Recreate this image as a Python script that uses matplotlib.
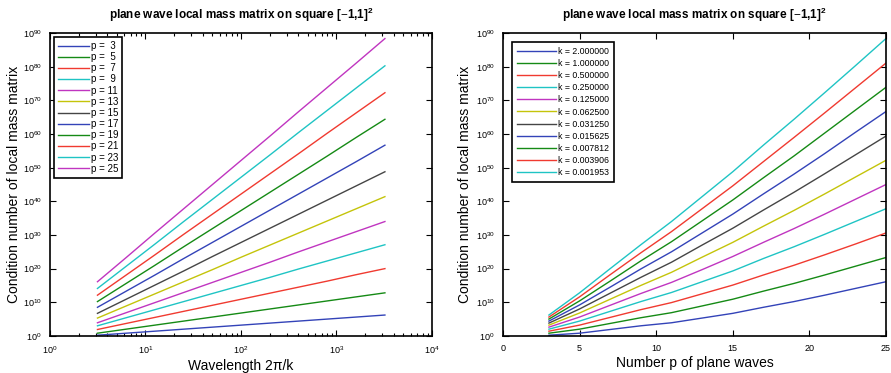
import numpy as np
import matplotlib
matplotlib.use("Agg")
from matplotlib import pyplot as plt

plt.rcParams["font.family"] = ["Liberation Sans", "DejaVu Sans"]
plt.rcParams["mathtext.fontset"] = "custom"
plt.rcParams["mathtext.rm"] = "Liberation Sans"
plt.rcParams["mathtext.bf"] = "Liberation Sans:bold"

# wave numbers and number of plane waves
k_vals = [2.0, 1.0, 0.5, 0.25, 0.125, 0.0625, 0.03125, 0.015625,
          0.0078125, 0.00390625, 0.001953125]
p_vals = [3, 5, 7, 9, 11, 13, 15, 17, 19, 21, 23, 25]

# log10 of condition number, one row per p, one column per k
log_cond = [
    [0.2, 0.8, 1.4, 2.0, 2.6, 3.2, 3.8, 4.4, 5.0, 5.6, 6.2],
    [0.8, 2.0, 3.2, 4.4, 5.6, 6.8, 8.0, 9.2, 10.4, 11.6, 12.8],
    [1.9, 3.7, 5.5, 7.3, 9.1, 10.9, 12.7, 14.5, 16.3, 18.2, 20.0],
    [3.0, 5.4, 7.8, 10.2, 12.6, 15.0, 17.4, 19.9, 22.3, 24.7, 27.1],
    [3.9, 6.9, 9.9, 12.9, 15.9, 18.9, 21.9, 25.0, 28.0, 31.0, 34.0],
    [5.3, 8.9, 12.5, 16.1, 19.7, 23.4, 27.0, 30.6, 34.2, 37.8, 41.4],
    [6.7, 10.9, 15.1, 19.3, 23.6, 27.8, 32.0, 36.2, 40.4, 44.6, 48.8],
    [8.5, 13.3, 18.1, 23.0, 27.8, 32.6, 37.4, 42.2, 47.0, 51.8, 56.7],
    [10.2, 15.6, 21.0, 26.5, 31.9, 37.3, 42.7, 48.1, 53.5, 59.0, 64.4],
    [12.1, 18.1, 24.1, 30.2, 36.2, 42.2, 48.2, 54.2, 60.3, 66.3, 72.3],
    [14.1, 20.7, 27.3, 34.0, 40.6, 47.2, 53.8, 60.5, 67.1, 73.7, 80.3],
    [16.1, 23.3, 30.6, 37.8, 45.0, 52.2, 59.4, 66.7, 73.9, 81.1, 88.4],
]

colors = ["#3343b8", "#158a15", "#f03a30", "#1fc4c4", "#c035c0",
          "#c4c40a", "#454545"]

cond = 10.0 ** np.array(log_cond)
wavelength = 2 * np.pi / np.array(k_vals)

fig = plt.figure(figsize=(8.91, 3.73), dpi=100)
ax1 = fig.add_axes([0.0561, 0.0995, 0.4287, 0.8115])
ax2 = fig.add_axes([0.5645, 0.0995, 0.4298, 0.8115])

title = r"plane wave local mass matrix on square [$-$1,1]$^{\mathbf{2}}$"

# left: condition number vs wavelength, one line per p
for i, p in enumerate(p_vals):
    ax1.loglog(wavelength, cond[i], color=colors[i % 7], lw=1.0,
               label="p = %2d" % p)
ax1.set_xlim(1, 1e4)
ax1.set_xlabel("Wavelength 2\u03c0/k", fontsize=10, labelpad=2)

# right: condition number vs p, one line per k
for j, k in enumerate(k_vals):
    ax2.semilogy(p_vals, cond[:, j], color=colors[j % 7], lw=1.0,
                 label="k = %f" % k)
ax2.set_xlim(0, 25)
ax2.set_xticks([0, 5, 10, 15, 20, 25])
ax2.set_xlabel("Number p of plane waves", fontsize=10, labelpad=2)

for ax, lx in ((ax1, -0.076), (ax2, -0.081)):
    ax.set_ylim(1, 1e90)
    ax.set_yticks(10.0 ** np.arange(0, 91, 10))
    ax.yaxis.set_minor_locator(matplotlib.ticker.NullLocator())
    ax.set_ylabel("Condition number of local mass matrix", fontsize=10)
    ax.yaxis.set_label_coords(lx, 0.5)
    ax.set_title(title, fontsize=8.5, fontweight="bold", pad=10)
    ax.tick_params(which="both", direction="in", top=True, right=True,
                   labelsize=6.5, width=0.8, pad=6)
    ax.tick_params(which="major", length=4)
    ax.tick_params(which="minor", length=2)
    for s in ax.spines.values():
        s.set_linewidth(1.2)

leg1 = ax1.legend(loc="upper left", fontsize=7, handlelength=3.2,
                  labelspacing=0.12, borderpad=0.4, handletextpad=0.2,
                  fancybox=False, framealpha=1, borderaxespad=0.4)
leg2 = ax2.legend(loc="upper left", fontsize=6.3, handlelength=4.5,
                  labelspacing=0.35, borderpad=0.6, handletextpad=0.2,
                  fancybox=False, framealpha=1, borderaxespad=1.0)
for leg in (leg1, leg2):
    leg.get_frame().set_edgecolor("black")
    leg.get_frame().set_linewidth(1.2)

fig.savefig("out.png", dpi=100)
